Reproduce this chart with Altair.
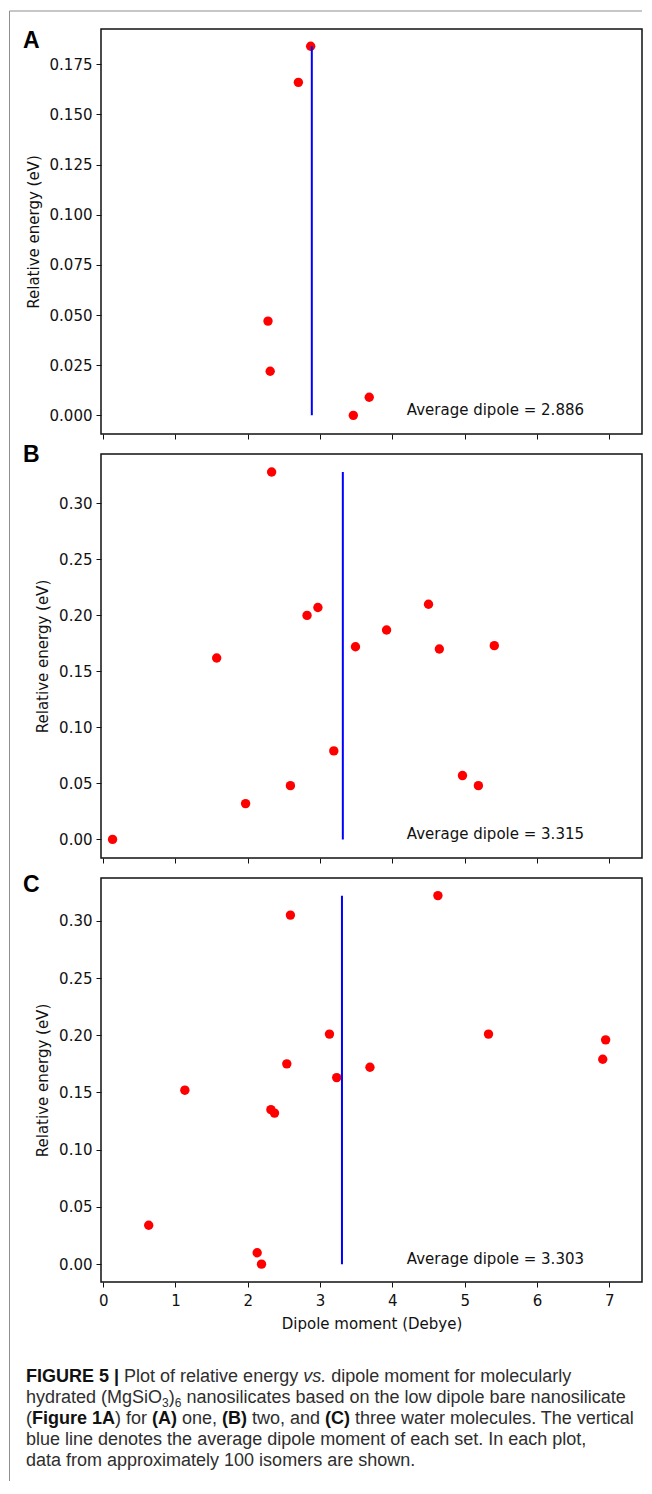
import altair as alt
import pandas as pd

# ---------------- data ----------------
x_ticks = [0, 1, 2, 3, 4, 5, 6, 7]

# (A) one water molecule
a_dipole = [2.87, 2.70, 2.28, 2.31, 3.68, 3.46]
a_energy = [0.184, 0.166, 0.047, 0.022, 0.009, 0.000]
a_average = 2.886
a_y_ticks = [0.0, 0.025, 0.05, 0.075, 0.1, 0.125, 0.15, 0.175]

# (B) two water molecules
b_dipole = [2.33, 1.57, 2.82, 2.97, 3.49, 3.92, 4.50, 4.65, 5.41, 3.19, 2.59, 1.97, 0.13, 4.97, 5.19]
b_energy = [0.328, 0.162, 0.200, 0.207, 0.172, 0.187, 0.210, 0.170, 0.173, 0.079, 0.048, 0.032, 0.000, 0.057, 0.048]
b_average = 3.315

# (C) three water molecules
c_dipole = [4.63, 2.59, 3.13, 5.33, 6.95, 6.91, 2.54, 3.69, 3.23, 1.13, 2.32, 2.37, 0.63, 2.13, 2.19]
c_energy = [0.322, 0.305, 0.201, 0.201, 0.196, 0.179, 0.175, 0.172, 0.163, 0.152, 0.135, 0.132, 0.034, 0.010, 0.000]
c_average = 3.303
bc_y_ticks = [0.0, 0.05, 0.10, 0.15, 0.20, 0.25, 0.30]

panel_letters = ["A", "B", "C"]
x_title = "Dipole moment (Debye)"
y_title = "Relative energy (eV)"
label_x = 4.2   # data x where the "Average dipole" note starts

caption_lines = [
    [("FIGURE 5 |", "b"), (" Plot of relative energy ", "r"), ("vs.", "i"),
     (" dipole moment for molecularly", "r")],
    [("hydrated (MgSiO", "r"), ("3", "sub"), (")", "r"), ("6", "sub"),
     (" nanosilicates based on the low dipole bare nanosilicate", "r")],
    [("(", "r"), ("Figure 1A", "b"), (") for ", "r"), ("(A)", "b"), (" one, ", "r"),
     ("(B)", "b"), (" two, and ", "r"), ("(C)", "b"),
     (" three water molecules. The vertical", "r")],
    [("blue line denotes the average dipole moment of each set. In each plot,", "r")],
    [("data from approximately 100 isomers are shown.", "r")],
]

# ---------------- layout / style ----------------
X_DOMAIN = [-0.03, 7.453]
PW = 541
TXT = "#111111"
FONT = "DejaVu Sans"
CAP_FONT = "Liberation Sans"
CAP_SIZE = 18
SUB_SIZE = 12

REG = {' ': 278, '(': 333, ')': 333, ',': 278, '.': 278, '|': 260,
       'A': 667, 'B': 667, 'C': 722, 'D': 722, 'E': 667, 'F': 611, 'G': 778, 'H': 722,
       'I': 278, 'M': 833, 'O': 778, 'P': 667, 'R': 722, 'S': 667, 'T': 611, 'U': 722, 'V': 667,
       'a': 556, 'b': 556, 'c': 500, 'd': 556, 'e': 556, 'f': 278, 'g': 556, 'h': 556, 'i': 222,
       'k': 500, 'l': 222, 'm': 833, 'n': 556, 'o': 556, 'p': 556, 'r': 333, 's': 500, 't': 278,
       'u': 556, 'v': 500, 'w': 722, 'x': 500, 'y': 500}
BOLD = {' ': 278, '(': 333, ')': 333, '|': 280, 'A': 722, 'B': 722, 'C': 722, 'E': 667, 'F': 611,
        'G': 778, 'I': 278, 'R': 722, 'U': 722, 'a': 556, 'e': 556, 'g': 611, 'i': 278, 'r': 389, 'u': 611}


def text_width(s, style):
    if style == "sub":
        return len(s) * 556 * SUB_SIZE / 1000
    table = BOLD if style == "b" else REG
    return sum(table.get(ch, 556) for ch in s) * CAP_SIZE / 1000


def caption_rows(x0, y0, dy):
    rows = []
    for i, line in enumerate(caption_lines):
        cur = x0
        for seg, style in line:
            lead = len(seg) - len(seg.lstrip(" "))
            cur += lead * 278 * CAP_SIZE / 1000
            core = seg.strip(" ")
            if core:
                yy = y0 + i * dy + (4 if style == "sub" else 0)
                rows.append({"x": cur, "y": yy, "t": core, "style": style})
                cur += text_width(core, style)
            trail = len(seg) - len(seg.rstrip(" "))
            cur += trail * 278 * CAP_SIZE / 1000
    return pd.DataFrame(rows)


def one_row():
    return pd.DataFrame({"k": [0]})


def panel(letter, dip, en, avg, ydomain, yticks, yfmt, height, bottom, letter_y, border=False, caption=False):
    xs = alt.Scale(domain=X_DOMAIN, nice=False, zero=False)
    ys = alt.Scale(domain=ydomain, nice=False, zero=False)
    if bottom:
        xaxis = alt.Axis(values=x_ticks, format="d", title=x_title, labels=True, labelPadding=6)
    else:
        xaxis = alt.Axis(values=x_ticks, labels=False, title=None)
    yaxis = alt.Axis(values=yticks, format=yfmt, title=y_title)

    pts = alt.Chart(pd.DataFrame({"dipole": dip, "energy": en})).mark_circle(
        size=88, color="#ff0000", opacity=1
    ).encode(
        x=alt.X("dipole:Q", scale=xs, axis=xaxis),
        y=alt.Y("energy:Q", scale=ys, axis=yaxis),
    )
    rule = alt.Chart(pd.DataFrame({"dipole": [avg], "energy": [0.0], "energy2": [max(en)]})).mark_rule(
        color="#0000ff", strokeWidth=2
    ).encode(
        x=alt.X("dipole:Q", scale=xs, axis=xaxis),
        y=alt.Y("energy:Q", scale=ys, axis=yaxis),
        y2="energy2:Q",
    )
    note = alt.Chart(pd.DataFrame({"dipole": [label_x], "energy": [0.0],
                                   "label": [f"Average dipole = {avg:.3f}"]})).mark_text(
        align="left", baseline="alphabetic", font=FONT, fontSize=15, color=TXT
    ).encode(
        x=alt.X("dipole:Q", scale=xs, axis=xaxis),
        y=alt.Y("energy:Q", scale=ys, axis=yaxis),
        text="label:N",
    )
    let = alt.Chart(one_row()).mark_text(
        align="left", baseline="alphabetic", font=CAP_FONT, fontWeight="bold", fontSize=23, color="#000000"
    ).encode(x=alt.value(-78), y=alt.value(letter_y), text=alt.value(letter))

    layers = [pts, rule, note, let]
    if border:
        layers.append(alt.Chart(one_row()).mark_rule(color="#8f8f8f", strokeWidth=1).encode(
            x=alt.value(-91.5), y=alt.value(-18), y2=alt.value(1452)))
        layers.append(alt.Chart(one_row()).mark_rule(color="#8f8f8f", strokeWidth=1).encode(
            x=alt.value(-91.5), x2=alt.value(541), y=alt.value(-18)))
    if caption:
        cdf = caption_rows(-75, 503.5, 21)
        styles = {
            "r": dict(fontWeight="normal", fontStyle="normal", fontSize=CAP_SIZE, color="#2e2e2e"),
            "b": dict(fontWeight="bold", fontStyle="normal", fontSize=CAP_SIZE, color="#111111"),
            "i": dict(fontWeight="normal", fontStyle="italic", fontSize=CAP_SIZE, color="#2e2e2e"),
            "sub": dict(fontWeight="normal", fontStyle="normal", fontSize=SUB_SIZE, color="#2e2e2e"),
        }
        for st, props in styles.items():
            sub = cdf[cdf["style"] == st]
            if len(sub) == 0:
                continue
            layers.append(alt.Chart(sub).mark_text(
                align="left", baseline="alphabetic", font=CAP_FONT, **props
            ).encode(
                x=alt.X("x:Q", scale=None, axis=None),
                y=alt.Y("y:Q", scale=None, axis=None),
                text="t:N",
            ))
    return alt.layer(*layers).properties(width=PW, height=height)


pa = panel("A", a_dipole, a_energy, a_average, [-0.0093, 0.1926], a_y_ticks, ".3f", 405, False, 18.5, border=True)
pb = panel("B", b_dipole, b_energy, b_average, [-0.0166, 0.3441], bc_y_ticks, ".2f", 404, False, 7.7)
pc = panel("C", c_dipole, c_energy, c_average, [-0.0156, 0.3374], bc_y_ticks, ".2f", 404, True, 13.7, caption=True)

chart = alt.vconcat(pa, pb, pc, spacing=20, bounds="flush").properties(
    padding={"left": 0, "top": 1, "right": 0, "bottom": 0}
).configure_view(
    stroke="#111111", strokeWidth=1.5
).configure_axis(
    grid=False, domain=False,
    tickColor="#111111", tickSize=5, tickWidth=1,
    labelFont=FONT, labelFontSize=15, labelColor=TXT, labelPadding=4,
    titleFont=FONT, titleFontSize=15, titleFontWeight="normal", titleColor=TXT, titlePadding=8,
)

chart.save("out.html", embed_options={"renderer": "svg", "actions": False})
